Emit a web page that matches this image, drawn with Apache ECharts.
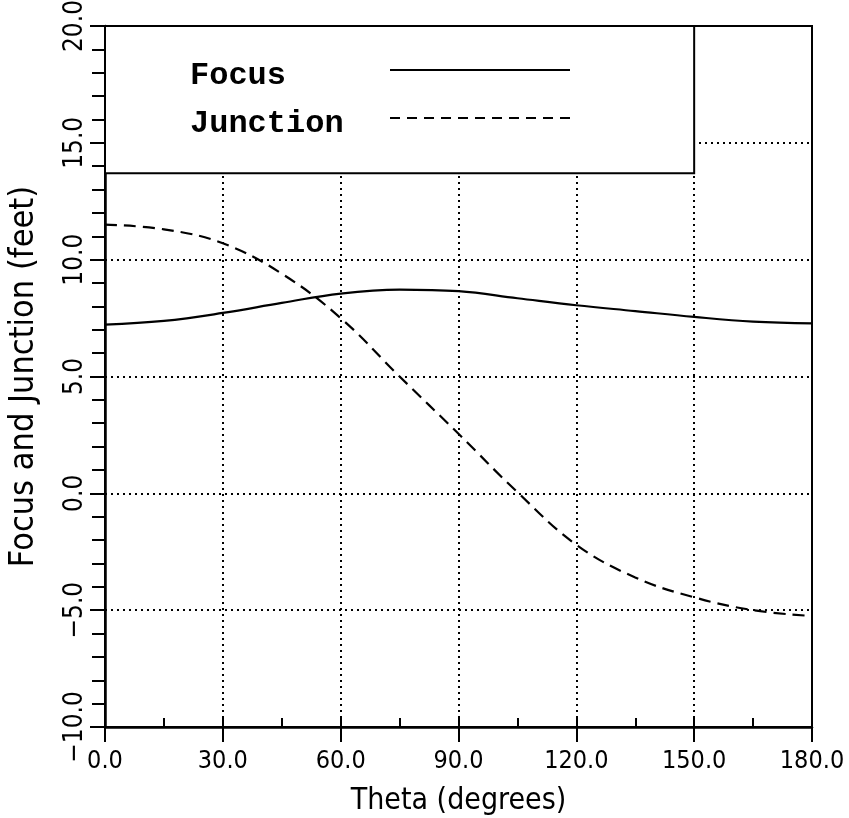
<!DOCTYPE html>
<html>
<head>
<meta charset="utf-8">
<script src="https://cdn.jsdelivr.net/npm/echarts@6/dist/echarts.min.js"></script>
<style>html,body{margin:0;padding:0;background:#fff}#c{width:849px;height:818px}</style>
</head>
<body>
<div id="c"></div>
<script>
const theta = [0, 15, 30, 45, 60, 75, 90, 105, 120, 135, 150, 165, 180];
const focus = [7.22, 7.38, 7.72, 8.15, 8.55, 8.72, 8.65, 8.35, 8.05, 7.8, 7.55, 7.35, 7.27];
const junction = [11.5, 11.3, 10.7, 9.4, 7.5, 5.0, 2.55, 0.05, -2.2, -3.6, -4.45, -5.0, -5.25];
const xTickLabels = ['0.0', '30.0', '60.0', '90.0', '120.0', '150.0', '180.0'];
const yTickLabels = ['\u221210.0', '\u22125.0', '0.0', '5.0', '10.0', '15.0', '20.0'];
const legendBox = { x0: 0, x1: 150, y0: 13.7, y1: 20 };

const FONT = "'Liberation Sans Narrow', 'DejaVu Sans Condensed', 'Liberation Sans', sans-serif";
const MONO = "'Liberation Mono', 'Courier New', monospace";
const chart = echarts.init(document.getElementById('c'), null, { renderer: 'canvas' });

const pair = (xs, ys) => xs.map((x, i) => [x, ys[i]]);

// legend icons: solid bar and a dashed bar (path units)
const solidIcon = 'path://M0,0H180V2H0Z';
let dashPath = '';
for (let x = 0; x < 180; x += 17) {
  const w = Math.min(10, 180 - x);
  dashPath += 'M' + x + ',0H' + (x + w) + 'V2H' + x + 'Z';
}
const dashedIcon = 'path://' + dashPath;

chart.setOption({
  animation: false,
  backgroundColor: '#fff',
  grid: { left: 105, right: 37, top: 26, bottom: 91, outerBoundsMode: 'none', containLabel: false, show: true, borderColor: '#000', borderWidth: 2, backgroundColor: 'transparent' },
  legend: {
    data: [{ name: 'Focus', icon: solidIcon }, { name: 'Junction', icon: dashedIcon }],
    orient: 'vertical',
    left: 185,
    top: 43,
    align: 'right',
    itemWidth: 180,
    itemHeight: 2,
    itemGap: 4,
    itemStyle: { color: '#000' },
    formatter: name => '{a|' + name + '}',
    textStyle: {
      rich: {
        a: { fontFamily: MONO, fontWeight: 'bold', fontSize: 32, color: '#000', width: 195, align: 'left', padding: [12, 0, 0, 0], lineHeight: 28 }
      }
    },
    selectedMode: false
  },
  xAxis: [{
    type: 'value', min: 0, max: 180, interval: 30,
    axisLine: { show: true, onZero: false, lineStyle: { color: '#000', width: 2.5 } },
    axisTick: { show: true, inside: false, length: 15, lineStyle: { color: '#000', width: 2 } },
    axisLabel: { fontFamily: FONT, fontSize: 25, color: '#000', margin: 22,
      formatter: v => xTickLabels[Math.round(v / 30)] },
    splitLine: { show: true, lineStyle: { color: '#000', width: 2, type: [2, 4] } },
    name: 'Theta (degrees)', nameLocation: 'middle', nameGap: 59,
    nameTextStyle: { fontFamily: FONT, fontSize: 30, color: '#000' }
  }, {
    type: 'value', min: 0, max: 180, interval: 15, position: 'bottom',
    axisLine: { show: false, onZero: false },
    axisTick: { show: true, inside: true, length: 9, lineStyle: { color: '#000', width: 2 } },
    axisLabel: { show: false },
    splitLine: { show: false }
  }],
  yAxis: {
    type: 'value', min: -10, max: 20, interval: 5,
    axisLine: { show: true, lineStyle: { color: '#000', width: 2.5 } },
    axisTick: { show: true, inside: false, length: 15, lineStyle: { color: '#000', width: 2 } },
    minorTick: { show: true, splitNumber: 5, length: 13, lineStyle: { color: '#000', width: 2 } },
    axisLabel: { fontFamily: FONT, fontSize: 26, color: '#000', rotate: 90, margin: 17,
      formatter: v => yTickLabels[Math.round((v + 10) / 5)] },
    splitLine: { show: true, lineStyle: { color: '#000', width: 2, type: [2, 4] } },
    name: 'Focus and Junction (feet)', nameLocation: 'middle', nameGap: 64,
    nameTextStyle: { fontFamily: FONT, fontSize: 34, color: '#000' }
  },
  series: [{
    name: 'Focus', type: 'line', xAxisIndex: 0, smooth: 0.4, symbol: 'none',
    data: pair(theta, focus),
    lineStyle: { color: '#000', width: 2.2 },
    itemStyle: { color: '#000' },
    markArea: {
      silent: true,
      itemStyle: { color: '#fff', borderColor: '#000', borderWidth: 2 },
      data: [[{ coord: [legendBox.x0, legendBox.y0] }, { coord: [legendBox.x1, legendBox.y1] }]]
    }
  }, {
    name: 'Junction', type: 'line', xAxisIndex: 0, smooth: 0.4, symbol: 'none',
    data: pair(theta, junction),
    lineStyle: { color: '#000', width: 2.2, type: [12, 7] },
    itemStyle: { color: '#000' }
  }]
});
</script>
</body>
</html>
